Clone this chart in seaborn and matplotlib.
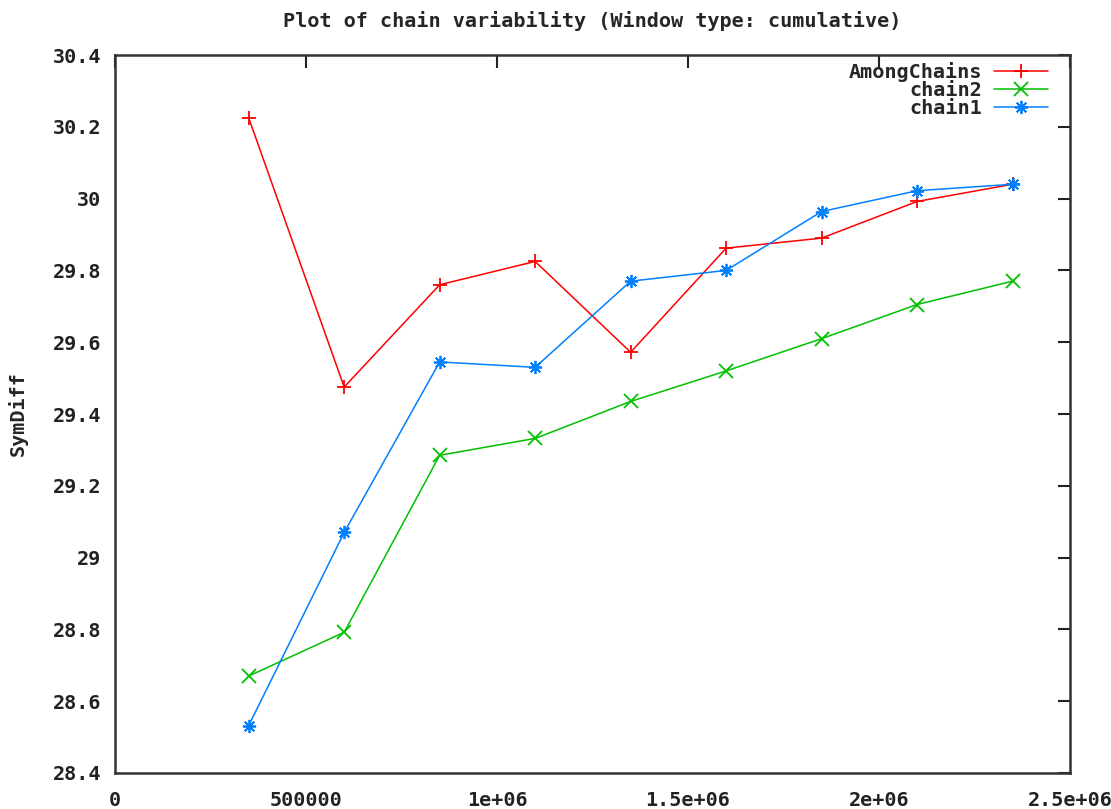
import numpy as np
import pandas as pd
import matplotlib
matplotlib.use('Agg')
import matplotlib.pyplot as plt
import seaborn as sns

# data
samples = [350000, 600000, 850000, 1100000, 1350000, 1600000, 1850000, 2100000, 2350000]
among_chains = [30.225, 29.475, 29.76, 29.825, 29.572, 29.862, 29.89, 29.992, 30.04]
chain2 = [28.67, 28.792, 29.285, 29.332, 29.435, 29.52, 29.61, 29.705, 29.77]
chain1 = [28.532, 29.07, 29.545, 29.53, 29.77, 29.80, 29.964, 30.022, 30.04]

series_names = ['AmongChains', 'chain2', 'chain1']
colors = {'AmongChains': '#ff0000', 'chain2': '#00c000', 'chain1': '#0080ff'}
markers = {'AmongChains': '+', 'chain2': 'x', 'chain1': (8, 2, 0)}

y_ticks = [28.4, 28.6, 28.8, 29, 29.2, 29.4, 29.6, 29.8, 30, 30.2, 30.4]
y_labels = ['28.4', '28.6', '28.8', '29', '29.2', '29.4', '29.6', '29.8', '30', '30.2', '30.4']
x_ticks = [0, 500000, 1000000, 1500000, 2000000, 2500000]
x_labels = ['0', '500000', '1e+06', '1.5e+06', '2e+06', '2.5e+06']

df = pd.DataFrame({
    'samples': samples * 3,
    'SymDiff': among_chains + chain2 + chain1,
    'series': np.repeat(series_names, len(samples)),
})

sns.set_style('white')
plt.rcParams['font.family'] = ['DejaVu Sans Mono']
plt.rcParams['font.weight'] = 'bold'

fs = 14.5
fig = plt.figure(figsize=(11.11, 8.09), dpi=100)
ax = fig.add_axes([0.1035, 0.0445, 0.8595, 0.8875])

sns.lineplot(data=df, x='samples', y='SymDiff', hue='series', style='series',
             hue_order=series_names, style_order=series_names,
             palette=colors, markers=markers, dashes=False,
             linewidth=1.1, markersize=9.5, markeredgewidth=1.3, ax=ax)

# seaborn paints line-art markers white; give them the line colour
for line in ax.lines:
    line.set_markeredgecolor(line.get_color())

ax.set_xlim(0, 2500000)
ax.set_ylim(28.4, 30.4)
ax.set_xticks(x_ticks)
ax.set_xticklabels(x_labels)
ax.set_yticks(y_ticks)
ax.set_yticklabels(y_labels)
ax.tick_params(direction='in', length=9, width=1.5, top=True, right=True,
               labelsize=fs, pad=10, colors='#222222')
ax.tick_params(axis='x', pad=13)
for sp in ax.spines.values():
    sp.set_visible(True)
    sp.set_linewidth(1.8)
    sp.set_color('#333333')

ax.set_xlabel('')
ax.set_ylabel('SymDiff', fontsize=fs, fontweight='bold', labelpad=18)
ax.set_title('Plot of chain variability (Window type: cumulative)',
             fontsize=fs, fontweight='bold', pad=20)

leg = ax.legend(loc='upper right', frameon=False, markerfirst=False,
                fontsize=fs, handlelength=2.7, handletextpad=0.6,
                labelspacing=-0.05, borderaxespad=0.2,
                bbox_to_anchor=(0.99, 1.007))
for h in leg.legend_handles:
    h.set_markeredgecolor(h.get_color())
    h.set_markeredgewidth(1.3)

fig.savefig('out.png', dpi=100, facecolor='white')
